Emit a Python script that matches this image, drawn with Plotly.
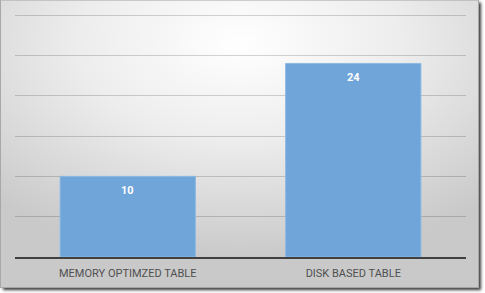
import base64
import plotly.graph_objects as go

categories = ["MEMORY OPTIMZED TABLE", "DISK BASED TABLE"]
values = [10, 24]
y_ticks = [0, 5, 10, 15, 20, 25, 30]
y_max = 31

W, H = 485, 293
L, R, B = 15, 19, 36
ph = (H - B - 15.5) * y_max / 30
T = H - B - ph
pw = W - L - R

svg = f'''<svg xmlns="http://www.w3.org/2000/svg" width="{W}" height="{H}" viewBox="0 0 {W} {H}">
<defs>
<radialGradient id="g" cx="50%" cy="15%" r="75%" fx="50%" fy="15%">
<stop offset="0%" stop-color="#FFFFFF"/>
<stop offset="45%" stop-color="#EDEDED"/>
<stop offset="100%" stop-color="#C9C9C9"/>
</radialGradient>
<filter id="s" x="-5%" y="-5%" width="115%" height="115%"><feGaussianBlur stdDeviation="1.5"/></filter>
</defs>
<rect x="0" y="0" width="{W}" height="{H}" fill="#FFFFFF"/>
<rect x="3" y="3" width="478" height="287" fill="#3A3A3A" filter="url(#s)"/>
<rect x="0.5" y="0.5" width="478" height="287" fill="url(#g)" stroke="#A8A8A8" stroke-width="1"/>
</svg>'''
src = "data:image/svg+xml;base64," + base64.b64encode(svg.encode()).decode()

fig = go.Figure()
fig.add_trace(go.Bar(
    x=categories, y=values,
    marker=dict(color="#6FA5D8", line=dict(color="#8DBAE3", width=1)),
    width=0.6,
    hoverinfo="skip",
))

for c, v in zip(categories, values):
    fig.add_annotation(x=c, y=v, text=f"<b>{v}</b>", showarrow=False,
                       yanchor="top", yshift=-6,
                       font=dict(color="white", size=11, family="Roboto, Arial"))

fig.add_layout_image(dict(
    source=src, xref="paper", yref="paper",
    x=-L / pw, y=(H - B) / ph, sizex=W / pw, sizey=H / ph,
    xanchor="left", yanchor="top", sizing="stretch", layer="below",
))

fig.update_layout(
    width=W, height=H,
    margin=dict(l=L, r=R, t=T, b=B, pad=0),
    paper_bgcolor="white", plot_bgcolor="rgba(0,0,0,0)",
    showlegend=False,
    bargap=0.4,
    font=dict(family="Roboto, Arial", size=11, color="#595959"),
)
fig.update_xaxes(showline=True, linecolor="#404040", linewidth=2, ticks="",
                 showgrid=False, ticklabelstandoff=5,
                 tickfont=dict(size=11, color="#505050"))
fig.update_yaxes(range=[0, y_max], tickvals=y_ticks, showticklabels=False, showgrid=True,
                 gridcolor="rgba(0,0,0,0.17)", gridwidth=1, zeroline=False, showline=False, ticks="")

fig.write_html("out.html")
